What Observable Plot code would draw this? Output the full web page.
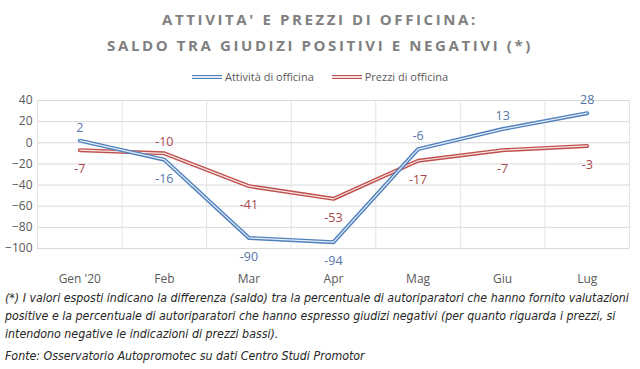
<!DOCTYPE html>
<html><head><meta charset="utf-8">
<script src="https://cdn.jsdelivr.net/npm/d3@7"></script>
<script src="https://cdn.jsdelivr.net/npm/@observablehq/plot@0.6"></script>
<style>
body{margin:0;background:#fff;width:640px;height:369px;position:relative;overflow:hidden;font-family:"Open Sans",sans-serif}
.title{position:absolute;left:0;width:640px;text-align:center;font-weight:bold;color:#808080;font-size:15px;letter-spacing:2.6px}
.legend{position:absolute;top:69px;left:0;width:640px;text-align:center;font-size:11px;color:#595959;font-family:"Liberation Sans Narrow","Open Sans",sans-serif}
.legend span.sw{display:inline-block;width:30px;height:4px;vertical-align:middle;margin-right:3px;position:relative;top:-1px}
.legend span.sw.b{background:linear-gradient(#4f81bd 0 35%,#e3eaf5 35% 65%,#4f81bd 65%)}
.legend span.sw.r{background:linear-gradient(#c0504d 0 35%,#f5e0df 35% 65%,#c0504d 65%)}
.note{position:absolute;left:5px;font-style:italic;font-size:12.3px;color:#262626;font-family:"Liberation Sans Narrow","DejaVu Sans Condensed",sans-serif;white-space:nowrap}
#chart{position:absolute;left:0;top:88px}
</style></head>
<body>
<div class="title" style="top:9px">ATTIVITA' E PREZZI DI OFFICINA:</div>
<div class="title" style="top:35px">SALDO TRA GIUDIZI POSITIVI E NEGATIVI (*)</div>
<div class="legend"><span class="sw b"></span>Attività di officina<span style="display:inline-block;width:18px"></span><span class="sw r"></span>Prezzi di officina</div>
<div id="chart"></div>
<div class="note" style="top:291px">(*) I valori esposti indicano la differenza (saldo) tra la percentuale di autoriparatori che hanno fornito valutazioni</div>
<div class="note" style="top:309px">positive e la percentuale di autoriparatori che hanno espresso giudizi negativi (per quanto riguarda i prezzi, si</div>
<div class="note" style="top:327px">intendono negative le indicazioni di prezzi bassi).</div>
<div class="note" style="top:349px">Fonte: Osservatorio Autopromotec su dati Centro Studi Promotor</div>
<script>
const months = ["Gen '20", "Feb", "Mar", "Apr", "Mag", "Giu", "Lug"];
const attivita = [2, -16, -90, -94, -6, 13, 28];
const prezzi = [-7, -10, -41, -53, -17, -7, -3];
const yTicks = [40, 20, 0, -20, -40, -60, -80, -100];
const seriesNames = ["Attività di officina", "Prezzi di officina"];

const blue = "#4f81bd", red = "#c0504d";
const blueTxt = "#5576a8", redTxt = "#a8474a";

const dataA = months.map((m, i) => ({i, month: m, value: attivita[i], series: seriesNames[0]}));
const dataP = months.map((m, i) => ({i, month: m, value: prezzi[i], series: seriesNames[1]}));
// label placement: blue above when higher than red; red above only at Feb
const aboveA = dataA.map((d, k) => d.value >= prezzi[k]);
const aboveP = dataP.map((d, k) => k === 1);
const bounds = d3.range(months.length + 1).map(k => k - 0.5);

const chart = Plot.plot({
  width: 640,
  height: 198,
  marginLeft: 37,
  marginRight: 11,
  marginTop: 12,
  marginBottom: 38,
  style: {fontFamily: "'Liberation Sans Narrow','Open Sans',sans-serif", fontSize: "12px", color: "#595959", background: "transparent"},
  x: {type: "linear", domain: [-0.5, months.length - 0.5], ticks: months.map((m, i) => i), tickFormat: i => months[i], tickSize: 0, tickPadding: 26, label: null},
  y: {domain: [-100, 40], ticks: yTicks, tickSize: 0, tickPadding: 5, label: null},
  marks: [
    Plot.ruleY(yTicks, {stroke: "#d9d9d9", strokeWidth: 1}),
    Plot.ruleX(bounds, {stroke: "#e3e3e3", strokeWidth: 1}),
    Plot.line(dataP, {x: "i", y: "value", stroke: red, strokeWidth: 4}),
    Plot.line(dataP, {x: "i", y: "value", stroke: "#f7e6e6", strokeWidth: 1.2}),
    Plot.line(dataA, {x: "i", y: "value", stroke: blue, strokeWidth: 4}),
    Plot.line(dataA, {x: "i", y: "value", stroke: "#e6edf7", strokeWidth: 1.2}),
    Plot.text(dataA.filter((d, k) => aboveA[k]), {x: "i", y: "value", text: d => String(d.value), dy: -13, fill: blueTxt, fontSize: 12.5}),
    Plot.text(dataA.filter((d, k) => !aboveA[k]), {x: "i", y: "value", text: d => String(d.value), dy: 19, fill: blueTxt, fontSize: 12.5}),
    Plot.text(dataP.filter((d, k) => aboveP[k]), {x: "i", y: "value", text: d => String(d.value), dy: -11, fill: redTxt, fontSize: 12.5}),
    Plot.text(dataP.filter((d, k) => !aboveP[k]), {x: "i", y: "value", text: d => String(d.value), dy: 19, fill: redTxt, fontSize: 12.5})
  ]
});
document.getElementById("chart").appendChild(chart);
</script>
</body></html>
